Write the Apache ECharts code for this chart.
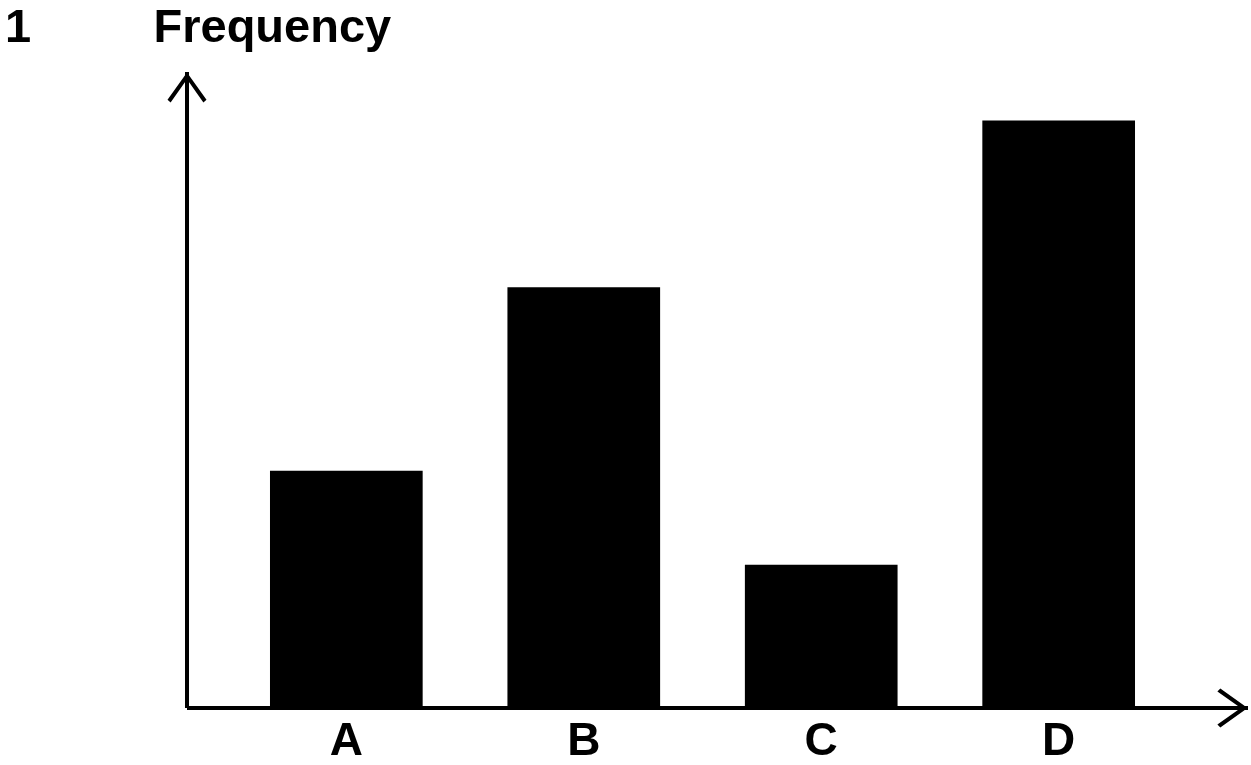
<!DOCTYPE html>
<html>
<head>
<meta charset="utf-8">
<script src="https://cdn.jsdelivr.net/npm/echarts@6/dist/echarts.min.js"></script>
<style>
  html, body { margin: 0; padding: 0; background: #fff; }
  #chart { width: 1251px; height: 765px; }
</style>
</head>
<body>
<div id="chart"></div>
<script>
// Data
const categories = ['A', 'B', 'C', 'D'];
const frequencies = [5.05, 8.95, 3.05, 12.5];
const yMax = 13.5;
const figureNumber = '1';
const axisTitle = 'Frequency';

const FONT = '"Liberation Sans", Arial, Helvetica, sans-serif';
const chevron = 'path://M20 0 L40 28 L36.8 31 L20 7 L3.2 31 L0 28 Z';

const chart = echarts.init(document.getElementById('chart'), null, { renderer: 'canvas' });

const axisLineStyle = {
  show: true,
  symbol: ['none', chevron],
  symbolSize: [39, 31],
  symbolOffset: [0, -15.5],
  lineStyle: { color: '#000', width: 4, cap: 'butt' }
};

chart.setOption({
  animation: false,
  backgroundColor: '#fff',
  graphic: [
    {
      type: 'text', x: 5, y: 29,
      style: { text: figureNumber, fontSize: 47, fontWeight: 'bold', fontFamily: FONT, fill: '#000', align: 'left', verticalAlign: 'middle' }
    },
    {
      type: 'text', x: 153.5, y: 29,
      style: { text: axisTitle, fontSize: 47, fontWeight: 'bold', fontFamily: FONT, fill: '#000', align: 'left', verticalAlign: 'middle' }
    }
  ],
  grid: [
    // axes frame with arrows
    { left: 187, right: 3, top: 72, bottom: 57, containLabel: false },
    // bars
    { left: 227.6, right: 73.6, top: 708 - yMax * 47, bottom: 57, containLabel: false }
  ],
  xAxis: [
    {
      gridIndex: 0, type: 'value', min: 0, max: 1,
      axisLine: axisLineStyle,
      axisTick: { show: false }, axisLabel: { show: false }, splitLine: { show: false }
    },
    {
      gridIndex: 1, type: 'category', data: categories,
      axisLine: { show: false }, axisTick: { show: false }, splitLine: { show: false },
      axisLabel: { margin: 11, fontSize: 46, fontWeight: 'bold', fontFamily: FONT, color: '#000' }
    }
  ],
  yAxis: [
    {
      gridIndex: 0, type: 'value', min: 0, max: 1,
      axisLine: axisLineStyle,
      axisTick: { show: false }, axisLabel: { show: false }, splitLine: { show: false }
    },
    {
      gridIndex: 1, type: 'value', min: 0, max: yMax,
      axisLine: { show: false }, axisTick: { show: false }, axisLabel: { show: false }, splitLine: { show: false }
    }
  ],
  series: [
    {
      type: 'bar',
      xAxisIndex: 1, yAxisIndex: 1,
      data: frequencies,
      barWidth: '64.3%',
      itemStyle: { color: '#000' },
      silent: true
    }
  ]
});
</script>
</body>
</html>
